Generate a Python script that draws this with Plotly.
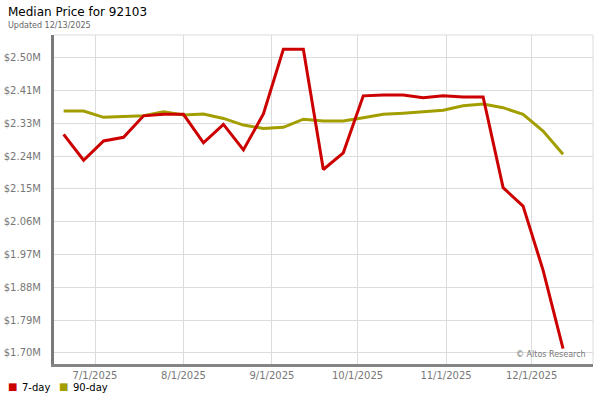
import plotly.graph_objects as go

dates = ["2025-06-20", "2025-06-27", "2025-07-04", "2025-07-11", "2025-07-18", "2025-07-25",
         "2025-08-01", "2025-08-08", "2025-08-15", "2025-08-22", "2025-08-29", "2025-09-05",
         "2025-09-12", "2025-09-19", "2025-09-26", "2025-10-03", "2025-10-10", "2025-10-17",
         "2025-10-24", "2025-10-31", "2025-11-07", "2025-11-14", "2025-11-21", "2025-11-28",
         "2025-12-05", "2025-12-12"]

price_7day = [2.295, 2.225, 2.277, 2.287, 2.345, 2.349, 2.349, 2.272, 2.322, 2.253,
              2.350, 2.525, 2.525, 2.200, 2.245, 2.399, 2.401, 2.401, 2.394, 2.399,
              2.396, 2.396, 2.151, 2.101, 1.928, 1.716]
price_7day = [v * 1e6 for v in price_7day]

price_90day = [2.358, 2.358, 2.341, 2.344, 2.345, 2.356, 2.347, 2.350, 2.338, 2.320,
               2.311, 2.314, 2.336, 2.331, 2.331, 2.340, 2.349, 2.352, 2.356, 2.360,
               2.372, 2.377, 2.367, 2.349, 2.304, 2.241]
price_90day = [v * 1e6 for v in price_90day]

y_tick_vals = [1.7045e6 + k * 0.08865e6 for k in range(10)]
y_tick_text = ["$1.70M", "$1.79M", "$1.88M", "$1.97M", "$2.06M", "$2.15M",
               "$2.24M", "$2.33M", "$2.41M", "$2.50M"]

x_tick_vals = ["2025-07-01", "2025-08-01", "2025-09-01", "2025-10-01", "2025-11-01", "2025-12-01"]
x_tick_text = ["7/1/2025", "8/1/2025", "9/1/2025", "10/1/2025", "11/1/2025", "12/1/2025"]

series_names = ["7-day", "90-day"]
series_colors = ["#CC0000", "#A39E00"]

FONT = "DejaVu Sans"
W, H = 600, 400
L, R, T, B = 54, 7, 35, 36
PW, PH = W - L - R, H - T - B


def px_x(x):
    return (x - L) / PW


def px_y(y):
    return (H - B - y) / PH


fig = go.Figure()
fig.add_trace(go.Scatter(x=dates, y=price_90day, mode="lines", name=series_names[1],
                         line=dict(color=series_colors[1], width=3), showlegend=False,
                         hoverinfo="skip"))
fig.add_trace(go.Scatter(x=dates, y=price_7day, mode="lines", name=series_names[0],
                         line=dict(color=series_colors[0], width=3), showlegend=False,
                         hoverinfo="skip"))

annotations = [
    dict(text="Median Price for 92103", xref="paper", yref="paper",
         x=px_x(6), y=px_y(12), xanchor="left", yanchor="middle", showarrow=False,
         font=dict(family=FONT, size=12, color="#000000")),
    dict(text="Updated 12/13/2025", xref="paper", yref="paper",
         x=px_x(6), y=px_y(25), xanchor="left", yanchor="middle", showarrow=False,
         font=dict(family=FONT, size=8, color="#666666")),
    dict(text="© Altos Research", xref="paper", yref="paper",
         x=px_x(588), y=px_y(354), xanchor="right", yanchor="middle", showarrow=False,
         font=dict(family=FONT, size=8, color="#777777")),
]
# legend (square swatches + labels)
legend_x = [6, 57]
for name, color, lx in zip(series_names, series_colors, legend_x):
    annotations.append(dict(text="■", xref="paper", yref="paper", x=px_x(lx), y=px_y(386),
                            xanchor="left", yanchor="middle", showarrow=False,
                            font=dict(family=FONT, size=10, color=color)))
    annotations.append(dict(text=name, xref="paper", yref="paper", x=px_x(lx + 14), y=px_y(387),
                            xanchor="left", yanchor="middle", showarrow=False,
                            font=dict(family=FONT, size=10, color="#000000")))

fig.update_layout(
    width=W, height=H,
    margin=dict(l=L, r=R, t=T, b=B, autoexpand=False),
    paper_bgcolor="white", plot_bgcolor="white",
    font=dict(family=FONT, size=10, color="#777777"),
    showlegend=False,
    xaxis=dict(type="date", range=["2025-06-16 15:00", "2025-12-22 12:00"],
               tickvals=x_tick_vals, ticktext=x_tick_text, automargin=False,
               showgrid=True, gridcolor="#DCDCDC", gridwidth=1,
               showline=True, linecolor="#858585", linewidth=3,
               ticks="", ticklabelstandoff=0, zeroline=False,
               tickfont=dict(family=FONT, size=10, color="#777777")),
    yaxis=dict(range=[1.6745e6, 2.5634e6], automargin=False,
               tickvals=y_tick_vals, ticktext=y_tick_text,
               showgrid=True, gridcolor="#DCDCDC", gridwidth=1,
               showline=True, linecolor="#7A7A7A", linewidth=3,
               ticks="", ticklabelstandoff=8, zeroline=False,
               tickfont=dict(family=FONT, size=10, color="#777777")),
    shapes=[
        dict(type="line", xref="paper", yref="paper", x0=0, x1=1, y0=1, y1=1,
             line=dict(color="#DCDCDC", width=1)),
        dict(type="line", xref="paper", yref="paper", x0=1, x1=1, y0=0, y1=1,
             line=dict(color="#DCDCDC", width=1)),
    ],
    annotations=annotations,
)

fig.write_html("out.html", config={"displayModeBar": False},
               post_script="document.body.style.margin='0';document.body.style.overflow='hidden';")
